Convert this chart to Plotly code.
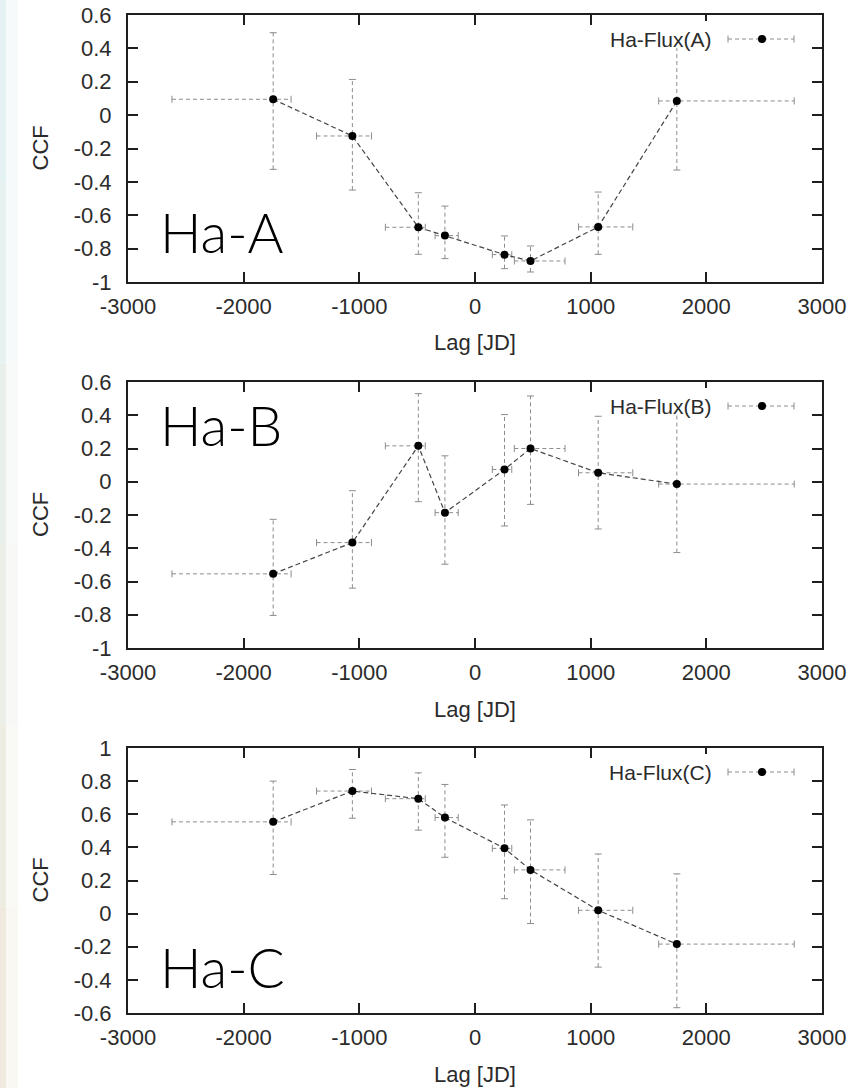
import plotly.graph_objects as go

# ---------------- data ----------------
lag = [-1745, -1060, -490, -260, 255, 480, 1065, 1745]
lag_lo = [-2620, -1370, -775, -345, 150, 340, 895, 1588]
lag_hi = [-1590, -895, -430, -145, 318, 778, 1364, 2760]

ccf_a = [0.095, -0.125, -0.672, -0.722, -0.836, -0.874, -0.670, 0.085]
ccf_a_hi = [0.494, 0.214, -0.465, -0.545, -0.724, -0.784, -0.461, 0.495]
ccf_a_lo = [-0.325, -0.449, -0.834, -0.860, -0.920, -0.940, -0.834, -0.329]

ccf_b = [-0.554, -0.366, 0.216, -0.186, 0.074, 0.200, 0.054, -0.014]
ccf_b_hi = [-0.226, -0.054, 0.530, 0.156, 0.404, 0.516, 0.394, 0.410]
ccf_b_lo = [-0.804, -0.640, -0.120, -0.496, -0.266, -0.136, -0.284, -0.426]

ccf_c = [0.554, 0.740, 0.694, 0.580, 0.394, 0.264, 0.020, -0.184]
ccf_c_hi = [0.800, 0.870, 0.850, 0.780, 0.656, 0.566, 0.360, 0.240]
ccf_c_lo = [0.236, 0.576, 0.504, 0.340, 0.090, -0.060, -0.323, -0.568]

series_names = ["Ha-Flux(A)", "Ha-Flux(B)", "Ha-Flux(C)"]
panel_labels = ["Ha-A", "Ha-B", "Ha-C"]

x_tickvals = [-3000, -2000, -1000, 0, 1000, 2000, 3000]
x_ticktext = ["-3000", "-2000", "-1000", "0", "1000", "2000", "3000"]
y_tickvals_ab = [-1, -0.8, -0.6, -0.4, -0.2, 0, 0.2, 0.4, 0.6]
y_ticktext_ab = ["-1", "-0.8", "-0.6", "-0.4", "-0.2", "0", "0.2", "0.4", "0.6"]
y_tickvals_c = [-0.6, -0.4, -0.2, 0, 0.2, 0.4, 0.6, 0.8, 1]
y_ticktext_c = ["-0.6", "-0.4", "-0.2", "0", "0.2", "0.4", "0.6", "0.8", "1"]

x_title = "Lag [JD]"
y_title = "CCF"

# ---------------- layout geometry (pixels) ----------------
W, H = 857, 1088
LEFT, RIGHT = 128, 822
panels = [
    dict(top=15, bottom=282, yr=[-1, 0.6], tv=y_tickvals_ab, tt=y_ticktext_ab,
         ccf=ccf_a, hi=ccf_a_hi, lo=ccf_a_lo, lab_top=213),
    dict(top=382, bottom=648, yr=[-1, 0.6], tv=y_tickvals_ab, tt=y_ticktext_ab,
         ccf=ccf_b, hi=ccf_b_hi, lo=ccf_b_lo, lab_top=406),
    dict(top=748, bottom=1013, yr=[-0.6, 1], tv=y_tickvals_c, tt=y_ticktext_c,
         ccf=ccf_c, hi=ccf_c_hi, lo=ccf_c_lo, lab_top=948),
]

FONT = "Liberation Sans, Arial, sans-serif"
TXT = "#2b2b2b"
AX = "#1e1e1e"
ERR = "#8c8c8c"
LINE = "#454545"
CAP_PX = 3.5

def px_x(px):
    return px / W

def px_y(px):
    return 1 - px / H

fig = go.Figure()
shapes = []
annotations = []

for i, p in enumerate(panels):
    sfx = "" if i == 0 else str(i + 1)
    xref, yref = "x" + sfx, "y" + sfx
    ph = p["bottom"] - p["top"]
    yspan = p["yr"][1] - p["yr"][0]
    capx = CAP_PX * 6000 / (RIGHT - LEFT)
    capy = CAP_PX * yspan / ph

    ex, ey, cx, cy = [], [], [], []
    for xv, yv, lo, hi, xl, xh in zip(lag, p["ccf"], p["lo"], p["hi"], lag_lo, lag_hi):
        ex += [xv, xv, None, xl, xh, None]
        ey += [lo, hi, None, yv, yv, None]
        cx += [xv - capx, xv + capx, None, xv - capx, xv + capx, None,
               xl, xl, None, xh, xh, None]
        cy += [lo, lo, None, hi, hi, None,
               yv - capy, yv + capy, None, yv - capy, yv + capy, None]

    fig.add_trace(go.Scatter(x=ex, y=ey, mode="lines", xaxis=xref, yaxis=yref,
                             line=dict(color=ERR, width=1, dash="4px,3px"),
                             hoverinfo="skip", showlegend=False))
    fig.add_trace(go.Scatter(x=cx, y=cy, mode="lines", xaxis=xref, yaxis=yref,
                             line=dict(color=ERR, width=1),
                             hoverinfo="skip", showlegend=False))
    fig.add_trace(go.Scatter(x=lag, y=p["ccf"], mode="lines+markers",
                             xaxis=xref, yaxis=yref, name=series_names[i],
                             line=dict(color=LINE, width=1.2, dash="5px,3px"),
                             marker=dict(color="black", size=8),
                             showlegend=False))

    dom_y = [px_y(p["bottom"]), px_y(p["top"])]
    fig.update_layout(**{
        "xaxis" + sfx: dict(domain=[px_x(LEFT), px_x(RIGHT)], anchor=yref,
                            range=[-3000, 3000], tickvals=x_tickvals, ticktext=x_ticktext,
                            ticks="inside", ticklen=10, tickwidth=2, tickcolor=AX,
                            showline=True, linewidth=2, linecolor=AX, mirror="ticks",
                            showgrid=False, zeroline=False, ticklabelstandoff=4,
                            automargin=False,
                            tickfont=dict(family=FONT, size=22, color=TXT)),
        "yaxis" + sfx: dict(domain=dom_y, anchor=xref,
                            range=p["yr"], tickvals=p["tv"], ticktext=p["tt"],
                            ticks="inside", ticklen=10, tickwidth=2, tickcolor=AX,
                            showline=True, linewidth=2, linecolor=AX, mirror="ticks",
                            showgrid=False, zeroline=False, ticklabelstandoff=10,
                            automargin=False,
                            tickfont=dict(family=FONT, size=22, color=TXT)),
    })

    # axis titles
    annotations.append(dict(text=x_title, xref="paper", yref="paper",
                            x=px_x((LEFT + RIGHT) / 2), y=px_y(p["bottom"] + 61),
                            xanchor="center", yanchor="middle", showarrow=False,
                            font=dict(family=FONT, size=22, color=TXT)))
    annotations.append(dict(text=y_title, xref="paper", yref="paper",
                            x=px_x(40), y=px_y((p["top"] + p["bottom"]) / 2),
                            xanchor="center", yanchor="middle", showarrow=False,
                            textangle=-90, font=dict(family=FONT, size=22, color=TXT)))
    # panel label
    annotations.append(dict(text=panel_labels[i], xref="paper", yref="paper",
                            x=px_x(158), y=px_y(p["lab_top"] + 19),
                            xanchor="left", yanchor="middle", showarrow=False,
                            font=dict(family="Lato, sans-serif", size=55, color="black",
                                      weight=300)))

    # legend key (gnuplot style, opaque)
    xd = xref + " domain"
    yd = yref + " domain"
    def dx(px):
        return (px - LEFT) / (RIGHT - LEFT)
    def dy(px):
        return 1 - (px - p["top"]) / ph
    shapes.append(dict(type="rect", xref=xd, yref=yd, x0=dx(596), x1=dx(802),
                       y0=dy(p["top"] + 33), y1=dy(p["top"] + 6),
                       fillcolor="white", line=dict(width=0), layer="above"))
    ky = p["top"] + 24
    shapes.append(dict(type="line", xref=xd, yref=yd, x0=dx(728), x1=dx(794),
                       y0=dy(ky), y1=dy(ky), layer="above",
                       line=dict(color=ERR, width=1, dash="4px,3px")))
    for kx in (728, 794):
        shapes.append(dict(type="line", xref=xd, yref=yd, x0=dx(kx), x1=dx(kx),
                           y0=dy(ky - CAP_PX), y1=dy(ky + CAP_PX), layer="above",
                           line=dict(color=ERR, width=1)))
    shapes.append(dict(type="circle", xref=xd, yref=yd, xsizemode="pixel", ysizemode="pixel",
                       xanchor=dx(762), yanchor=dy(ky), x0=-4, x1=4, y0=-4, y1=4,
                       fillcolor="black", line=dict(width=0), layer="above"))
    annotations.append(dict(text=series_names[i], xref=xd, yref=yd,
                            x=dx(714), y=dy(ky), xanchor="right", yanchor="middle",
                            showarrow=False,
                            font=dict(family=FONT, size=21, color=TXT)))

# slide background strip on the left (pale gradient)
strip_cols = ["#e4f2f3", "#e6f1f0", "#e9f0ec", "#ecefe7", "#eeede2", "#efeadd"]
n = len(strip_cols)
for k, c in enumerate(strip_cols):
    shapes.append(dict(type="rect", xref="paper", yref="paper", x0=0, x1=px_x(6),
                       y0=1 - (k + 1) / n, y1=1 - k / n, fillcolor=c,
                       line=dict(width=0), layer="below"))
    shapes.append(dict(type="rect", xref="paper", yref="paper", x0=px_x(6), x1=px_x(18),
                       y0=1 - (k + 1) / n, y1=1 - k / n, fillcolor=c, opacity=0.35,
                       line=dict(width=0), layer="below"))

fig.update_layout(template="none", width=W, height=H, margin=dict(l=0, r=0, t=0, b=0, pad=0),
                  paper_bgcolor="white", plot_bgcolor="white",
                  showlegend=False, shapes=shapes, annotations=annotations)

fig.write_html("out.html", config={"displayModeBar": False},
               post_script="document.body.style.margin='0';")
